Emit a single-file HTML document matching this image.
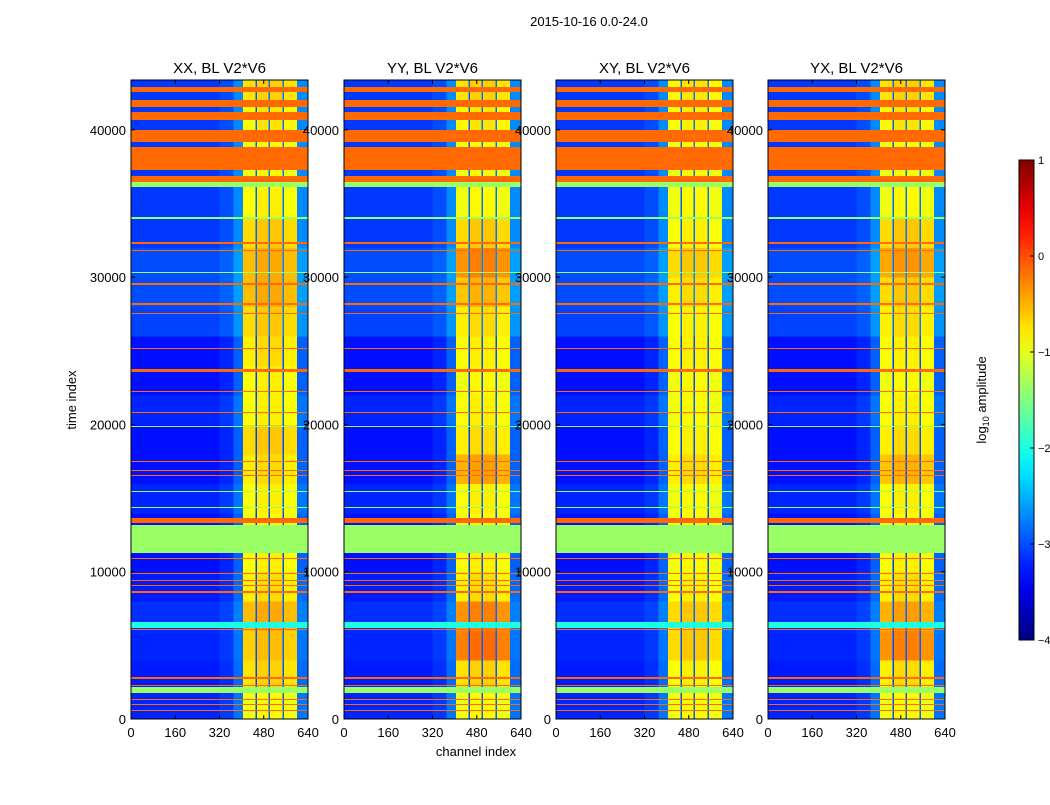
<!DOCTYPE html>
<html><head><meta charset="utf-8"><style>
body{margin:0;background:#fff;font-family:"Liberation Sans",sans-serif}
svg text{font-family:"Liberation Sans",sans-serif}
</style></head><body>
<svg id="fig" width="1050" height="800" xmlns="http://www.w3.org/2000/svg">
<rect width="1050" height="800" fill="#fff"/>
<text x="589" y="26" font-size="13" text-anchor="middle">2015-10-16 0.0-24.0</text>
<text transform="translate(76,400) rotate(-90)" font-size="13" text-anchor="middle">time index</text>
<text x="476" y="756" font-size="13" text-anchor="middle">channel index</text>
<g id="panels"></g>
<g id="cbar"></g>
<text transform="translate(986,400) rotate(-90)" font-size="13" text-anchor="middle">log<tspan font-size="9" dy="3">10</tspan><tspan dy="-3"> amplitude</tspan></text>
</svg>
<script>
// ---- data ----
const panelTitles = ["XX, BL V2*V6","YY, BL V2*V6","XY, BL V2*V6","YX, BL V2*V6"];
const xTicks = [0,160,320,480,640];
const yTicks = [0,10000,20000,30000,40000];
const cbTicks = [1,0,-1,-2,-3,-4];
const cbTickLabels = ["1","0","\u22121","\u22122","\u22123","\u22124"];
// channel groups: start, end, base log amplitude, bright flag
const chanStart = [0,320,370,405,450,456,497,503,548,554,600];
const chanEnd   = [320,370,405,450,456,497,503,548,554,600,640];
const chanBase  = [-3.3,-3.2,-2.9,-0.95,-3.1,-0.85,-3.0,-0.85,-3.0,-0.95,-2.9];
const chanBright= [0,0,0,1,0,1,0,1,0,1,0];
// time segments of 2000 samples each (0..44000)
const segStart = [0,2000,4000,6000,8000,10000,12000,14000,16000,18000,20000,22000,24000,26000,28000,30000,32000,34000,36000,38000,40000,42000];
const leftAdj  = [0.1,0.05,0.1,0.15,0.05,0,0,0.1,0,0,0.1,0,0,0.25,0.3,0.3,0.2,0.2,0.2,0.2,0.2,0.2];
const rowAdjP1 = [0,0.2,0.3,0.4,0.15,0.05,0,0.05,0.15,0.25,0.05,0.05,0.15,0.25,0.4,0.4,0.25,0.05,0,0,0.1,0.2];
const rowAdjP2 = [0,0.2,0.7,0.6,0.15,0.05,0,0.05,0.45,0.15,0.05,0,0.05,0.15,0.35,0.6,0.25,0,0,0,0.1,0.2];
const rowAdjP3 = [0,0.05,0.25,0.25,0.05,0,0,0,0.15,0.05,0,0,0.05,0.05,0.15,0.25,0.05,0,0,0,0.05,0.1];
const rowAdjP4 = [0,0.15,0.6,0.45,0.15,0.05,0,0.05,0.35,0.15,0.05,0,0.05,0.15,0.25,0.5,0.25,0,0,0,0.1,0.2];
const rowAdj = [rowAdjP1,rowAdjP2,rowAdjP3,rowAdjP4];
// flagged time bands: start, end, value
const flagStart = [42567,41549,40667,39173,37272,36457,36118,33946,32248,31780,30280,29465,28107,27500,25120,23559,22200,20780,19830,17450,16840,16500,15410,14330,13306,11270,10860,9850,9370,9030,8554,6178,6040,2716,2240,1765,1290,950,550];
const flagEnd   = [42906,42024,41210,39988,38833,36864,36457,34082,32384,31841,30347,29600,28243,27564,25188,23762,22268,20842,19892,17516,16905,16566,15480,14393,13647,13171,10930,9912,9437,9097,8690,6585,6110,2851,2308,2172,1358,1018,611];
const flagVal   = [-0.14,-0.14,-0.14,-0.14,-0.14,-0.14,-1.37,-1.37,-0.14,-0.14,-1.37,-0.14,-0.14,-0.14,-0.14,-0.14,-0.14,-0.14,-1.37,-0.14,-0.14,-0.14,-1.37,-1.37,-0.14,-1.37,-0.14,-0.14,-0.14,-0.14,-0.14,-2.0,-0.14,-0.14,-0.14,-1.37,-0.14,-0.14,-0.14];

// ---- layout ----
const panelX0 = [131,344,556,768], PW = 177, PY0 = 80, PY1 = 719, TMAX = 43380, CMAX = 640;
const NS = "http://www.w3.org/2000/svg";
function jet(v){const x=Math.max(0,Math.min(1,(v+4)/5));
 const c=t=>Math.round(255*Math.max(0,Math.min(1,1.5-Math.abs(t))));
 return `rgb(${c(4*x-3)},${c(4*x-2)},${c(4*x-1)})`;}
function mk(tag,attrs,parent){const e=document.createElementNS(NS,tag);for(const k in attrs)e.setAttribute(k,attrs[k]);parent.appendChild(e);return e;}
const root=document.getElementById('panels');
for(let p=0;p<4;p++){
 const x0=panelX0[p];
 const xs=c=>x0+c/CMAX*PW, ys=t=>PY1-t/TMAX*(PY1-PY0);
 const g=mk('g',{},root);
 
 
 const cl=mk('clipPath',{id:'cp'+p},g);mk('rect',{x:x0,y:PY0,width:PW,height:PY1-PY0},cl);
 const cells=mk('g',{'clip-path':'url(#cp'+p+')','shape-rendering':'crispEdges'},g);
 for(let s=0;s<segStart.length;s++){
  const t0=segStart[s],t1=t0+2000;
  for(let c=0;c<chanStart.length;c++){
   const v=chanBase[c]+(chanBright[c]?rowAdj[p][s]:leftAdj[s]);
   const r=mk('rect',{x:xs(chanStart[c]),y:ys(t1),width:xs(chanEnd[c])-xs(chanStart[c]),height:ys(t0)-ys(t1)+0.5,fill:jet(v)},cells);
   
   
  }
 }
 for(let f=0;f<flagStart.length;f++){
  const r=mk('rect',{x:x0,y:ys(flagEnd[f]),width:PW,height:Math.max(1,ys(flagStart[f])-ys(flagEnd[f])),fill:jet(flagVal[f])},cells);
  
  
 }
 mk('rect',{x:x0,y:PY0,width:PW,height:PY1-PY0,fill:'none',stroke:'#000','stroke-width':1},g);
 const tt=mk('text',{x:x0+PW/2,y:PY0-7,'font-size':15,'text-anchor':'middle'},g);tt.textContent=panelTitles[p];
 
 
 xTicks.forEach(v=>{const x=xs(v);
  mk('line',{x1:x,x2:x,y1:PY1,y2:PY1-4,stroke:'#000'},g);mk('line',{x1:x,x2:x,y1:PY0,y2:PY0+4,stroke:'#000'},g);
  const t=mk('text',{x:x,y:PY1+18,'font-size':13,'text-anchor':'middle'},g);t.textContent=v;
  
  });
 yTicks.forEach(v=>{const y=ys(v);
  mk('line',{x1:x0,x2:x0+4,y1:y,y2:y,stroke:'#000'},g);mk('line',{x1:x0+PW,x2:x0+PW-4,y1:y,y2:y,stroke:'#000'},g);
  const t=mk('text',{x:x0-5,y:y+5,'font-size':13,'text-anchor':'end'},g);t.textContent=v;
  
  });
}
// colorbar
const cb=document.getElementById('cbar');const CX=1019,CW=15,CY0=160,CY1=640;
const defs=mk('defs',{},cb);const lg=mk('linearGradient',{id:'jetg',x1:0,y1:1,x2:0,y2:0},defs);
for(let i=0;i<=20;i++){mk('stop',{offset:i/20,'stop-color':jet(-4+5*i/20)},lg);}
mk('rect',{x:CX,y:CY0,width:CW,height:CY1-CY0,fill:'url(#jetg)',stroke:'#000'},cb);
cbTicks.forEach((v,i)=>{const y=CY1-(v+4)/5*(CY1-CY0);
 mk('line',{x1:CX+CW-4,x2:CX+CW,y1:y,y2:y,stroke:'#000'},cb);
 const t=mk('text',{x:CX+CW+4,y:y+4,'font-size':11},cb);t.textContent=cbTickLabels[i];
 
 });
</script>
</body></html>
